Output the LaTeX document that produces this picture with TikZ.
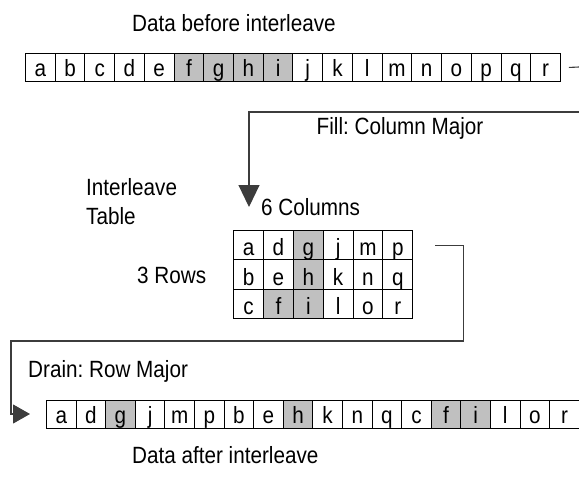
\documentclass[tikz,border=0pt]{standalone}
\usepackage{fontspec}
\setmainfont{Liberation Sans}[FakeStretch=0.88]
\usetikzlibrary{arrows.meta}
\definecolor{cellgray}{RGB}{192,192,192}
\definecolor{connline}{RGB}{60,60,60}
\begin{document}
\frenchspacing
\begin{tikzpicture}[x=1pt,y=-1pt,
  font=\fontsize{23.5}{28}\selectfont,
  cellbase/.style={draw=black, line width=0.9pt, inner sep=0pt, anchor=north west},
  rowcell/.style={cellbase, minimum width=29.72pt, minimum height=28pt, text height=18.6pt, text depth=0pt},
  botcell/.style={cellbase, minimum width=29.6pt, minimum height=28pt, text height=18.6pt, text depth=0pt},
  tabcell/.style={cellbase, minimum width=29.83pt, minimum height=29.43pt, text height=21pt, text depth=0pt},
  shade0/.style={fill=white},
  shade1/.style={fill=cellgray},
  label/.style={inner sep=0pt, anchor=base west},
  conn/.style={draw=connline, line width=1.1pt},
  bigtip/.style={-{Triangle[width=21pt,length=22pt]}},
  sidetip/.style={-{Triangle[width=19pt,length=17pt]}}
]
\useasboundingbox (0,0) rectangle (579,485);

% labels
\node[label] (before) at (132,31) {Data before interleave};
\node[label] (fill) at (316.5,134.5) {Fill: Column Major};
\node[label] (inter) at (86,195) {Interleave};
\node[label] (table) at (86,224) {Table};
\node[label] (cols) at (261,215) {6 Columns};
\node[label] (rows) at (137,283) {3 Rows};
\node[label] (drain) at (28,377) {Drain: Row Major};
\node[label] (after) at (132,463) {Data after interleave};

% top row
\foreach \l/\s [count=\i from 0] in {a/0,b/0,c/0,d/0,e/0,f/1,g/1,h/1,i/1,j/0,k/0,l/0,m/0,n/0,o/0,p/0,q/0,r/0}
  \node[rowcell, shade\s] (t\i) at ({25+\i*29.72},53) {\l};

% table
\foreach \l/\s [count=\i from 0] in {a/0,d/0,g/1,j/0,m/0,p/0}
  \node[tabcell, shade\s] (tb0\i) at ({233.3+\i*29.83},230) {\l};
\foreach \l/\s [count=\i from 0] in {b/0,e/0,h/1,k/0,n/0,q/0}
  \node[tabcell, shade\s] (tb1\i) at ({233.3+\i*29.83},259.43) {\l};
\foreach \l/\s [count=\i from 0] in {c/0,f/1,i/1,l/0,o/0,r/0}
  \node[tabcell, shade\s] (tb2\i) at ({233.3+\i*29.83},288.86) {\l};

% bottom row
\foreach \l/\s [count=\i from 0] in {a/0,d/0,g/1,j/0,m/0,p/0,b/0,e/0,h/1,k/0,n/0,q/0,c/0,f/1,i/1,l/0,o/0,r/0}
  \node[botcell, shade\s] (b\i) at ({46+\i*29.6},400) {\l};

% connectors
\coordinate (topout) at (579,67);
\draw[conn] ([xshift=8pt]t17.east) -- (topout);

\coordinate (fillin) at (579,112);
\coordinate (fillcorner) at (249,112);
\coordinate (filltip) at (249,207);
\draw[conn, bigtip] (fillin) -- (fillcorner) -- (filltip);

\coordinate (drainright) at (463.5,341);
\coordinate (drainleft) at (11,341);
\coordinate (draincorner) at (11,414);
\coordinate (draintip) at (30,414);
\draw[conn, sidetip] ([xshift=22pt]tb05.east) -| (drainright) -- (drainleft) -- (draincorner) -- (draintip);
\end{tikzpicture}
\end{document}
